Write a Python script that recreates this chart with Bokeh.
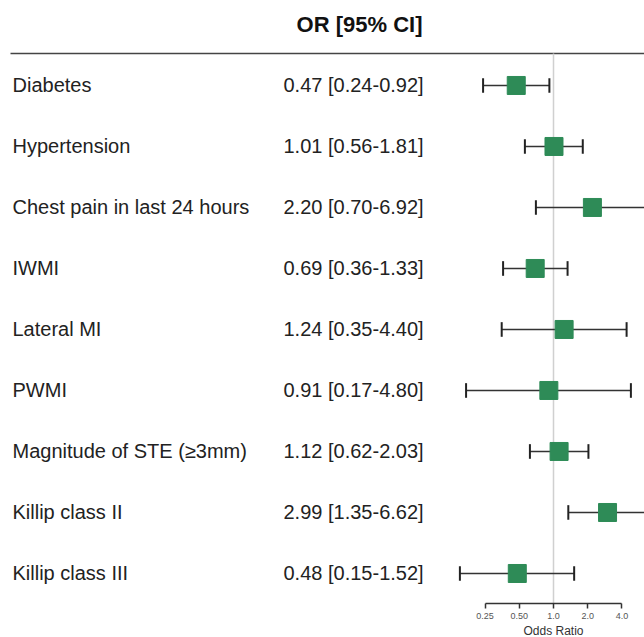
from bokeh.plotting import figure
from bokeh.models import Range1d, LinearScale, FixedTicker, CustomJSTickFormatter, ColumnDataSource, Title
from bokeh.core.properties import value
from bokeh.embed import file_html
from bokeh.resources import INLINE

# ---- data ----
labels = ["Diabetes", "Hypertension", "Chest pain in last 24 hours", "IWMI", "Lateral MI",
          "PWMI", "Magnitude of STE (\u22653mm)", "Killip class II", "Killip class III"]
odds = [0.47, 1.01, 2.20, 0.69, 1.24, 0.91, 1.12, 2.99, 0.48]
lower = [0.24, 0.56, 0.70, 0.36, 0.35, 0.17, 0.62, 1.35, 0.15]
upper = [0.92, 1.81, 6.92, 1.33, 4.40, 4.80, 2.03, 6.62, 1.52]
tick_values = [0.25, 0.5, 1.0, 2.0, 4.0]
tick_labels = ["0.25", "0.50", "1.0", "2.0", "4.0"]
header = "OR [95% CI]"
axis_title = "Odds Ratio"

rows = list(range(1, len(labels) + 1))
or_text = [f"{o:.2f} [{l:.2f}-{u:.2f}]" for o, l, u in zip(odds, lower, upper)]

# ---- layout ----
W, H = 644, 637
FRAME_W = 644
PX_PER_DOUBLING = 34.2
ONE_AT = 553.0
x_start = 2 ** (-ONE_AT / PX_PER_DOUBLING)
x_end = 2 ** ((FRAME_W - ONE_AT) / PX_PER_DOUBLING)
Y_BOTTOM, Y_TOP = 9.492, -0.393
TITLE_PX = 12

p = figure(width=W, height=H, output_backend="svg", toolbar_location=None,
           x_axis_type="log", y_axis_location=None,
           x_range=Range1d(x_start, x_end), y_range=Range1d(Y_BOTTOM, Y_TOP),
           min_border_left=0, min_border_right=0, min_border_top=0, min_border_bottom=34)
p.extra_x_ranges = {"txt": Range1d(0, FRAME_W)}
p.extra_x_scales = {"txt": LinearScale()}
p.outline_line_color = None
p.xgrid.visible = False
p.ygrid.visible = False
p.background_fill_color = "white"
p.border_fill_color = "white"

font = value("Liberation Sans")

# header line and reference line
p.segment(x0=[10], x1=[FRAME_W], y0=[0.475], y1=[0.475], x_range_name="txt",
          line_color="#444444", line_width=1.5)
p.segment(x0=[1.0], x1=[1.0], y0=[0.475], y1=[Y_BOTTOM], line_color="#d0d0d0", line_width=1.5)

# header
p.text(x=[359], y=[0.008], text=[header], x_range_name="txt", text_font=font,
       text_font_size="22px", text_font_style="bold", text_align="center",
       text_baseline="middle", text_color="#111111")

cap = 0.12
src = ColumnDataSource(dict(y=rows, lab=labels, ort=or_text, o=odds, lo=lower, up=upper,
                            ylo=[r - cap for r in rows], yhi=[r + cap for r in rows]))
p.text(x=12, y="y", text="lab", source=src, x_range_name="txt", text_font=font,
       text_font_size="20px", text_baseline="middle", text_align="left", text_color="#222222")
p.text(x=283, y="y", text="ort", source=src, x_range_name="txt", text_font=font,
       text_font_size="20px", text_baseline="middle", text_align="left", text_color="#222222")

# whiskers
p.segment(x0="lo", x1="up", y0="y", y1="y", source=src, line_color="#333333", line_width=1.6)
p.segment(x0="lo", x1="lo", y0="ylo", y1="yhi", source=src, line_color="#222222", line_width=2)
p.segment(x0="up", x1="up", y0="ylo", y1="yhi", source=src, line_color="#222222", line_width=2)
# markers
p.scatter(x="o", y="y", source=src, marker="square", size=18,
          fill_color="#2E8B57", line_color="#2E8B57")

# axis
ax = p.xaxis[0]
ax.ticker = FixedTicker(ticks=tick_values)
ax.formatter = CustomJSTickFormatter(args=dict(t=tick_values, l=tick_labels), code="""
    for (let i = 0; i < t.length; i++) { if (Math.abs(t[i] - tick) < 1e-9) return l[i]; }
    return '';
""")
ax.bounds = (tick_values[0], tick_values[-1])
ax.axis_line_color = "#333333"
ax.axis_line_width = 1.5
ax.major_tick_line_color = "#333333"
ax.major_tick_line_width = 1.5
ax.major_tick_in = 0
ax.major_tick_out = 5
ax.minor_tick_line_color = None
ax.major_label_text_font = "Liberation Sans"
ax.major_label_text_font_size = "9px"
ax.major_label_text_color = "#555555"
ax.major_label_standoff = 4

# axis title centred under the OR = 1 position (approx. half text width = 2.5 em)
p.add_layout(Title(text=axis_title, align="left", offset=ONE_AT - 2.5 * TITLE_PX, standoff=0,
                   text_font="Liberation Sans", text_font_size=f"{TITLE_PX}px",
                   text_font_style="normal", text_color="#333333"), "below")

open("out.html", "w").write(file_html(p, INLINE))
